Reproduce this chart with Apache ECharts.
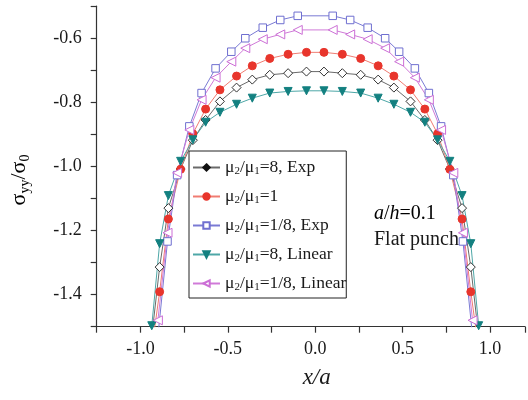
<!DOCTYPE html>
<html>
<head>
<meta charset="utf-8">
<script src="https://cdn.jsdelivr.net/npm/echarts@6/dist/echarts.min.js"></script>
<style>
  html, body { margin: 0; padding: 0; background: #fff; }
  #chart { width: 528px; height: 400px; }
</style>
</head>
<body>
<div id="chart"></div>
<script>
// Contact stress under a flat punch, a/h = 0.1, for several shear-modulus ratios.

// x/a positions shared by the mu2/mu1 = 8 and mu2/mu1 = 1 curves
const xGridA = [-0.935, -0.89, -0.84, -0.77, -0.70, -0.627, -0.545, -0.45, -0.36, -0.26, -0.155, -0.05,
                 0.05, 0.155, 0.26, 0.36, 0.45, 0.545, 0.627, 0.70, 0.77, 0.84, 0.89, 0.935];
// x/a positions of the mu2/mu1 = 1/8 curves
const xGridB = [-0.90, -0.845, -0.79, -0.72, -0.65, -0.57, -0.48, -0.40, -0.30, -0.20, -0.10,
                 0.10, 0.20, 0.30, 0.40, 0.48, 0.57, 0.65, 0.72, 0.79, 0.845, 0.90];

const ratio8Exp = [-1.53, -1.314, -1.130, -1.008, -0.918, -0.855, -0.797, -0.754, -0.729, -0.714, -0.709, -0.704,
                   -0.704, -0.709, -0.714, -0.729, -0.754, -0.797, -0.855, -0.918, -1.008, -1.130, -1.314, -1.53];
const ratio1 = [-1.57, -1.391, -1.164, -1.009, -0.898, -0.821, -0.761, -0.718, -0.686, -0.663, -0.650, -0.644,
                -0.644, -0.650, -0.663, -0.686, -0.718, -0.761, -0.821, -0.898, -1.009, -1.164, -1.391, -1.57];
const ratio8Linear = [-1.497, -1.241, -1.091, -0.984, -0.917, -0.862, -0.831, -0.806, -0.787, -0.771, -0.766, -0.764,
                      -0.764, -0.766, -0.771, -0.787, -0.806, -0.831, -0.862, -0.917, -0.984, -1.091, -1.241, -1.497];
const ratio18Exp = [-1.53, -1.234, -1.027, -0.875, -0.771, -0.694, -0.642, -0.600, -0.567, -0.543, -0.530,
                    -0.530, -0.543, -0.567, -0.600, -0.642, -0.694, -0.771, -0.875, -1.027, -1.234, -1.53];
const ratio18Linear = [-1.48, -1.207, -1.020, -0.886, -0.792, -0.723, -0.673, -0.631, -0.603, -0.588, -0.574,
                       -0.574, -0.588, -0.603, -0.631, -0.673, -0.723, -0.792, -0.886, -1.020, -1.207, -1.48];

const seriesNames = ['μ2/μ1=8, Exp', 'μ2/μ1=1', 'μ2/μ1=1/8, Exp', 'μ2/μ1=8, Linear', 'μ2/μ1=1/8, Linear'];

const xTickLabels = ['-1.0', '-0.5', '0.0', '0.5', '1.0'];
const yTickLabels = ['-1.4', '-1.2', '-1.0', '-0.8', '-0.6'];

const FONT = 'Liberation Serif';
const INK = '#1a1a1a';

function pairs(xs, ys) {
  return xs.map((x, i) => [x, ys[i]]);
}

function tickFormatter(labels) {
  return v => {
    const s = (Math.abs(v) < 1e-9 ? 0 : v).toFixed(1);
    return labels.indexOf(s) >= 0 ? s : '';
  };
}

function lineSeries(name, xs, ys, opts) {
  return Object.assign({
    name: name,
    type: 'line',
    data: pairs(xs, ys),
    symbolSize: 8,
    clip: true,
    lineStyle: { width: 1, color: opts.line },
    itemStyle: { color: opts.fill, borderColor: opts.stroke, borderWidth: 1 },
    emphasis: { disabled: true }
  }, opts.extra || {});
}

const chart = echarts.init(document.getElementById('chart'), null, { renderer: 'canvas' });

const subStyle = { fontFamily: FONT, fontSize: 11, color: INK, lineHeight: 8, verticalAlign: 'bottom' };

chart.setOption({
  animation: false,
  backgroundColor: '#fff',
  grid: { left: 96.7, right: 0, top: 6.2, bottom: 73.3, containLabel: false },
  xAxis: {
    type: 'value',
    min: -1.25,
    max: 1.2,
    interval: 0.25,
    axisLine: { onZero: false, lineStyle: { color: '#333', width: 1.2 } },
    axisTick: { inside: false, length: 6, lineStyle: { color: '#333', width: 1.2 } },
    axisLabel: { formatter: tickFormatter(xTickLabels), fontFamily: FONT, fontSize: 18, color: INK, margin: 14, showMaxLabel: true },
    splitLine: { show: false }
  },
  yAxis: {
    type: 'value',
    min: -1.5,
    max: -0.5,
    interval: 0.1,
    axisLine: { show: true, onZero: false, lineStyle: { color: '#333', width: 1.2 } },
    axisTick: { show: true, inside: false, length: 6, lineStyle: { color: '#333', width: 1.2 } },
    axisLabel: { formatter: tickFormatter(yTickLabels), fontFamily: FONT, fontSize: 18, color: INK, margin: 15 },
    splitLine: { show: false }
  },
  legend: {
    orient: 'vertical',
    left: 189,
    top: 151,
    padding: [7.5, 0, 5, 3],
    itemGap: 10.5,
    itemWidth: 27,
    itemHeight: 8,
    borderColor: '#222',
    borderWidth: 1,
    backgroundColor: '#fff',
    data: [
      { name: seriesNames[0], itemStyle: { color: '#111', borderColor: '#111' } },
      { name: seriesNames[1] },
      { name: seriesNames[2] },
      { name: seriesNames[3] },
      { name: seriesNames[4] }
    ],
    formatter: name => '{t|μ}{s|2}{t|/μ}{s|1}{t|' + name.slice(5) + '}',
    textStyle: {
      rich: {
        t: { fontFamily: FONT, fontSize: 17.5, color: INK, lineHeight: 19 },
        s: subStyle
      }
    }
  },
  graphic: [
    {
      type: 'text',
      x: 19,
      y: 180,
      rotation: Math.PI / 2,
      style: {
        text: '{g|σ}{b|yy}{g|/σ}{b|0}',
        align: 'center',
        verticalAlign: 'middle',
        rich: {
          g: { fontFamily: FONT, fontSize: 22, color: INK, lineHeight: 26 },
          b: { fontFamily: FONT, fontSize: 14, color: INK, lineHeight: 10, verticalAlign: 'bottom' }
        }
      }
    },
    {
      type: 'text',
      x: 316.7,
      y: 378,
      style: {
        text: 'x/a',
        font: 'italic 23px "Liberation Serif"',
        fill: INK,
        align: 'center',
        verticalAlign: 'middle'
      }
    },
    {
      type: 'text',
      x: 374,
      y: 214,
      style: {
        text: '{i|a}{n|/}{i|h}{n|=0.1}',
        verticalAlign: 'middle',
        rich: {
          i: { fontFamily: FONT, fontSize: 20, fontStyle: 'italic', color: INK },
          n: { fontFamily: FONT, fontSize: 20, color: INK }
        }
      }
    },
    {
      type: 'text',
      x: 374,
      y: 240,
      style: {
        text: 'Flat punch',
        font: '20px "Liberation Serif"',
        fill: INK,
        verticalAlign: 'middle'
      }
    }
  ],
  series: [
    lineSeries(seriesNames[0], xGridA, ratio8Exp,
      { line: '#6a6a6a', fill: '#fff', stroke: '#333', extra: { symbol: 'diamond', symbolSize: 9 } }),
    lineSeries(seriesNames[1], xGridA, ratio1,
      { line: '#f07c72', fill: '#e8352c', stroke: '#e8352c', extra: { symbol: 'circle' } }),
    lineSeries(seriesNames[2], xGridB, ratio18Exp,
      { line: '#7a7ad4', fill: '#fff', stroke: '#6f6fd0', extra: { symbol: 'rect', symbolSize: 7.5 } }),
    lineSeries(seriesNames[3], xGridA, ratio8Linear,
      { line: '#4ea7a7', fill: '#138080', stroke: '#138080', extra: { symbol: 'triangle', symbolRotate: 180 } }),
    lineSeries(seriesNames[4], xGridB, ratio18Linear,
      { line: '#d07ad8', fill: '#fff', stroke: '#cc6fd6', extra: { symbol: 'triangle', symbolRotate: 90, symbolSize: 9 } })
  ]
});
</script>
</body>
</html>
